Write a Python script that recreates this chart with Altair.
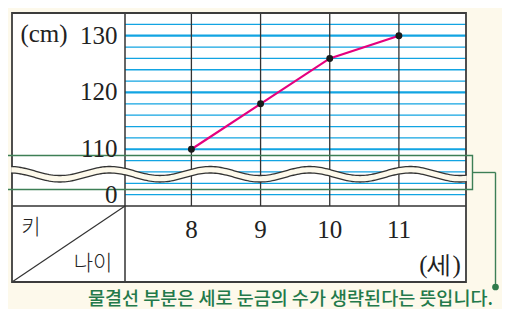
import altair as alt
import pandas as pd
import numpy as np

# ---- data ----
ages = [8, 9, 10, 11]
heights = [110, 118, 126, 130]
age_labels = ["8", "9", "10", "11"]
y_tick_values = [130, 120, 110, 102]   # 102 is drawn as "0" (below the wavy break)
y_tick_labels = ["130", "120", "110", "0"]
grid_cm = list(range(102, 133, 2))
major_cm = [110, 120, 130]
note_text = ["물결선 부분은 세로 눈금의 수가 생략된다는 뜻입니다."]

# ---- scale geometry (plot area = inner grid) ----
X0, X1 = 7.04, 11.97
Y0, Y1 = 100, 134
PW, PH = 341, 193
PX_X = PW / (X1 - X0)
PX_Y = PH / (Y1 - Y0)


def ax(px):  # page x -> age units
    return X0 + (px - 125) / PX_X


def cy(py):  # page y -> cm units
    return Y1 - (py - 13) / PX_Y


xs = alt.Scale(domain=[X0, X1], nice=False, zero=False)
ys = alt.Scale(domain=[Y0, Y1], nice=False, zero=False)

TL, TR, TB, TT = ax(12), X1, cy(282), Y1
DARK = "#333333"
BLUE = "#12a4e2"
GREEN = "#3d7f56"
CREAM = "#fdf9eb"
INK = "#222222"


def X(f):
    return alt.X(f, scale=xs, axis=None)


def Y(f):
    return alt.Y(f, scale=ys, axis=None)


# white table
table = pd.DataFrame({"x": [TL], "x2": [TR], "y": [TB], "y2": [TT]})
table_fill = alt.Chart(table).mark_rect(fill="white").encode(
    x=X("x:Q"), x2="x2:Q", y=Y("y:Q"), y2="y2:Q")
table_border = alt.Chart(table).mark_rect(fillOpacity=0, stroke="#3c3c3c", strokeWidth=1.8).encode(
    x=X("x:Q"), x2="x2:Q", y=Y("y:Q"), y2="y2:Q")

# blue horizontal lines
gdf = pd.DataFrame({"y": grid_cm, "x": X0, "x2": X1,
                    "w": [2.2 if v in major_cm else 1.3 for v in grid_cm]})
blue = alt.Chart(gdf).mark_rule(color=BLUE).encode(
    x=X("x:Q"), x2="x2:Q", y=Y("y:Q"),
    strokeWidth=alt.StrokeWidth("w:Q", scale=None, legend=None))

# vertical grid lines
vdf = pd.DataFrame({"x": ages, "y": Y0, "y2": Y1})
vlines = alt.Chart(vdf).mark_rule(color=DARK, strokeWidth=1.3).encode(
    x=X("x:Q"), y=Y("y:Q"), y2="y2:Q")

# table dividers
div_v = alt.Chart(pd.DataFrame({"x": [X0], "y": [TB], "y2": [TT]})).mark_rule(
    color=DARK, strokeWidth=1.5).encode(x=X("x:Q"), y=Y("y:Q"), y2="y2:Q")
div_h = alt.Chart(pd.DataFrame({"x": [TL], "x2": [TR], "y": [Y0]})).mark_rule(
    color=DARK, strokeWidth=1.5).encode(x=X("x:Q"), x2="x2:Q", y=Y("y:Q"))
diag = alt.Chart(pd.DataFrame({"x": [TL], "x2": [X0], "y": [TB], "y2": [Y0]})).mark_rule(
    color=DARK, strokeWidth=1.2).encode(x=X("x:Q"), x2="x2:Q", y=Y("y:Q"), y2="y2:Q")

# wavy break band (decoration)
wx = np.linspace(11.2, 466.8, 240)
wtop = 171 - 4.5 * np.cos(2 * np.pi * (wx - 10) / 100)
wbot = wtop + 6.5
wave = pd.DataFrame({"x": ax(wx), "t": cy(wtop), "b": cy(wbot)})
band = alt.Chart(wave).mark_area(color=CREAM, opacity=1).encode(
    x=X("x:Q"), y=Y("t:Q"), y2="b:Q")
band_top = alt.Chart(wave).mark_line(color=DARK, strokeWidth=1.3).encode(
    x=X("x:Q"), y=Y("t:Q"))
band_bot = alt.Chart(wave).mark_line(color=DARK, strokeWidth=1.3).encode(
    x=X("x:Q"), y=Y("b:Q"))

# green callout
grect = alt.Chart(pd.DataFrame({"x": [ax(5.5)], "x2": [ax(472.5)], "y": [cy(189.5)], "y2": [cy(155.5)]})).mark_rect(
    fillOpacity=0, stroke=GREEN, strokeWidth=1.4).encode(x=X("x:Q"), x2="x2:Q", y=Y("y:Q"), y2="y2:Q")
gh = alt.Chart(pd.DataFrame({"x": [ax(472.5)], "x2": [ax(495.5)], "y": [cy(172.5)]})).mark_rule(
    color=GREEN, strokeWidth=1.4).encode(x=X("x:Q"), x2="x2:Q", y=Y("y:Q"))
gv = alt.Chart(pd.DataFrame({"x": [ax(495.5)], "y": [cy(172.5)], "y2": [cy(287)]})).mark_rule(
    color=GREEN, strokeWidth=1.4).encode(x=X("x:Q"), y=Y("y:Q"), y2="y2:Q")
gdot = alt.Chart(pd.DataFrame({"x": [ax(495.5)], "y": [cy(287)]})).mark_circle(
    color="#2f7a4c", size=45, opacity=1).encode(x=X("x:Q"), y=Y("y:Q"))
note = alt.Chart(pd.DataFrame({"x": [ax(88)], "y": [cy(298.5)], "t": note_text})).mark_text(
    align="left", baseline="middle", font="Noto Sans CJK KR", fontSize=18.5, fontWeight=500,
    color="#23794a").encode(x=X("x:Q"), y=Y("y:Q"), text="t:N")

# left-column / corner labels
lab = pd.DataFrame({
    "x": [ax(44), ax(31), ax(93), ax(440)],
    "y": [cy(34), cy(228), cy(264), cy(265)],
    "t": ["(cm)", "키", "나이", "(세)"],
})
lab_serif = alt.Chart(lab.iloc[[0, 3]]).mark_text(
    font="Liberation Serif", fontSize=25, color=INK, baseline="middle").encode(
    x=X("x:Q"), y=Y("y:Q"), text="t:N")
lab_kr = alt.Chart(lab.iloc[[1, 2]]).mark_text(
    font="Noto Sans CJK KR", fontSize=21, fontWeight=300, color=INK, baseline="middle").encode(
    x=X("x:Q"), y=Y("y:Q"), text="t:N")

# tick labels (drawn through the scales)
ytl = pd.DataFrame({"v": y_tick_values, "t": y_tick_labels, "x": ax(117.5)})
ylabels = alt.Chart(ytl).mark_text(
    font="Liberation Serif", fontSize=25, color=INK, align="right", baseline="middle").encode(
    x=X("x:Q"), y=Y("v:Q"), text="t:N")
xtl = pd.DataFrame({"a": ages, "t": age_labels, "y": cy(229.5)})
xlabels = alt.Chart(xtl).mark_text(
    font="Liberation Serif", fontSize=25, color=INK, align="center", baseline="middle").encode(
    x=X("a:Q"), y=Y("y:Q"), text="t:N")

# data line
df = pd.DataFrame({"age": ages, "h": heights})
line = alt.Chart(df).mark_line(color="#e5007e", strokeWidth=2.2).encode(
    x=X("age:Q"), y=Y("h:Q"))
pts = alt.Chart(df).mark_circle(color="#1a1a1a", size=48, opacity=1).encode(
    x=X("age:Q"), y=Y("h:Q"))

chart = alt.layer(
    table_fill, blue, vlines, div_v, div_h, diag, table_border,
    band, band_top, band_bot, grect, gh, gv, gdot, note,
    lab_serif, lab_kr, ylabels, xlabels, line, pts,
).properties(
    width=PW, height=PH,
    autosize=alt.AutoSizeParams(type="none"),
    padding={"left": 117, "top": 5, "right": 36, "bottom": 103},
    background=CREAM,
).configure_view(stroke=None)

chart.save("out.html", embed_options={"renderer": "svg", "actions": False})
